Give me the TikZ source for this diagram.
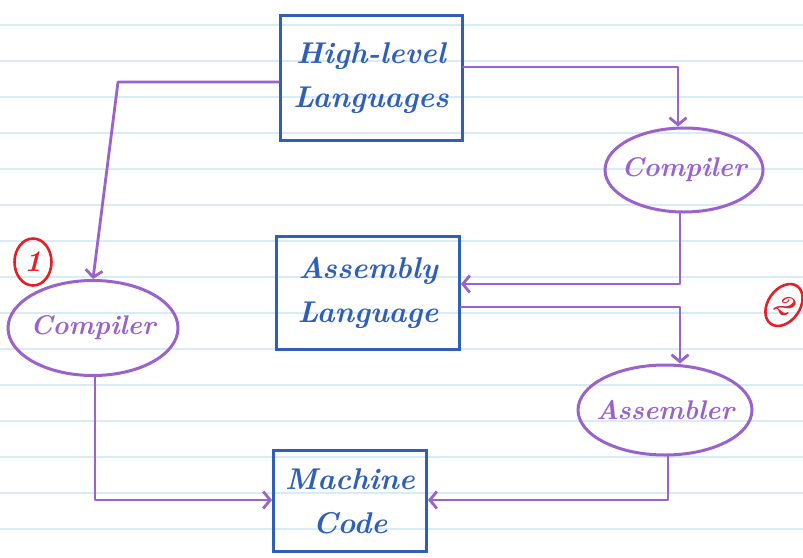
\documentclass[tikz,border=0pt]{standalone}
\usetikzlibrary{shapes.geometric,arrows.meta,calc}
\definecolor{penblue}{HTML}{2F5FB7}
\definecolor{penpurple}{HTML}{9A63CC}
\definecolor{penred}{HTML}{E51F27}
\definecolor{paperline}{HTML}{D8ECF8}
\begin{document}
\begin{tikzpicture}[x=1pt,y=-1pt,
  paper/.style={draw=paperline,line width=1.5pt},
  box/.style={draw=penblue,line width=3pt,rectangle,align=center,text=penblue,font=\fontsize{30}{44}\selectfont\bfseries\itshape,inner sep=0pt},
  oval/.style={draw=penpurple,line width=3pt,ellipse,inner sep=-10pt,text=penpurple,font=\fontsize{27}{32}\selectfont\bfseries\itshape},
  conn/.style={draw=penpurple,line width=2.8pt,line cap=round,line join=round,-{Straight Barb[length=7pt,width=17pt,line width=2.8pt]}},
  redmark/.style={draw=penred,line width=2.6pt,text=penred,font=\fontsize{30}{34}\selectfont\bfseries\itshape,inner sep=0pt}
]
\useasboundingbox (0,0) rectangle (803,557);
\fill[white] (0,0) rectangle (803,557);
\foreach \yy in {25,61,...,529} \draw[paper] (0,\yy) -- (803,\yy);

\node[box,minimum width=182pt,minimum height=125pt] (hl) at (371,78) {High-level\\Languages};
\node[box,minimum width=183pt,minimum height=113pt] (al) at (368,293) {Assembly\\Language};
\node[box,minimum width=153pt,minimum height=101pt] (mc) at (350,501) {Machine\\Code};

\node[oval,minimum width=158pt,minimum height=84pt] (rc) at (684,170) {Compiler};
\node[oval,minimum width=170pt,minimum height=95pt] (lc) at (93,328) {Compiler};
\node[oval,minimum width=174pt,minimum height=90pt] (as) at (665,410) {Assembler};

\node[redmark,ellipse,minimum width=37pt,minimum height=47pt] (m1) at (33,262) {1};
\node[redmark,ellipse,minimum width=32pt,minimum height=46pt,rotate=-35] (m2) at (784,305) {2};

\coordinate (a1) at (118,82);
\draw[conn] (hl.west |- a1) -- (a1) -- (lc.north);

\coordinate (a2) at (678,67);
\draw[conn] (hl.east |- a2) -- (a2) -- (a2 |- rc.north);

\coordinate (a3) at (680,284);
\draw[conn] (a3 |- rc.south) -- (a3) -- (a3 -| al.east);

\coordinate (a4) at (680,307);
\draw[conn] (a4 -| al.east) -- (a4) -- (a4 |- as.north);

\coordinate (a5) at (668,500);
\draw[conn] (a5 |- as.south) -- (a5) -- (a5 -| mc.east);

\coordinate (a6) at (95,500);
\draw[conn] (a6 |- lc.south) -- (a6) -- (a6 -| mc.west);
\end{tikzpicture}
\end{document}
